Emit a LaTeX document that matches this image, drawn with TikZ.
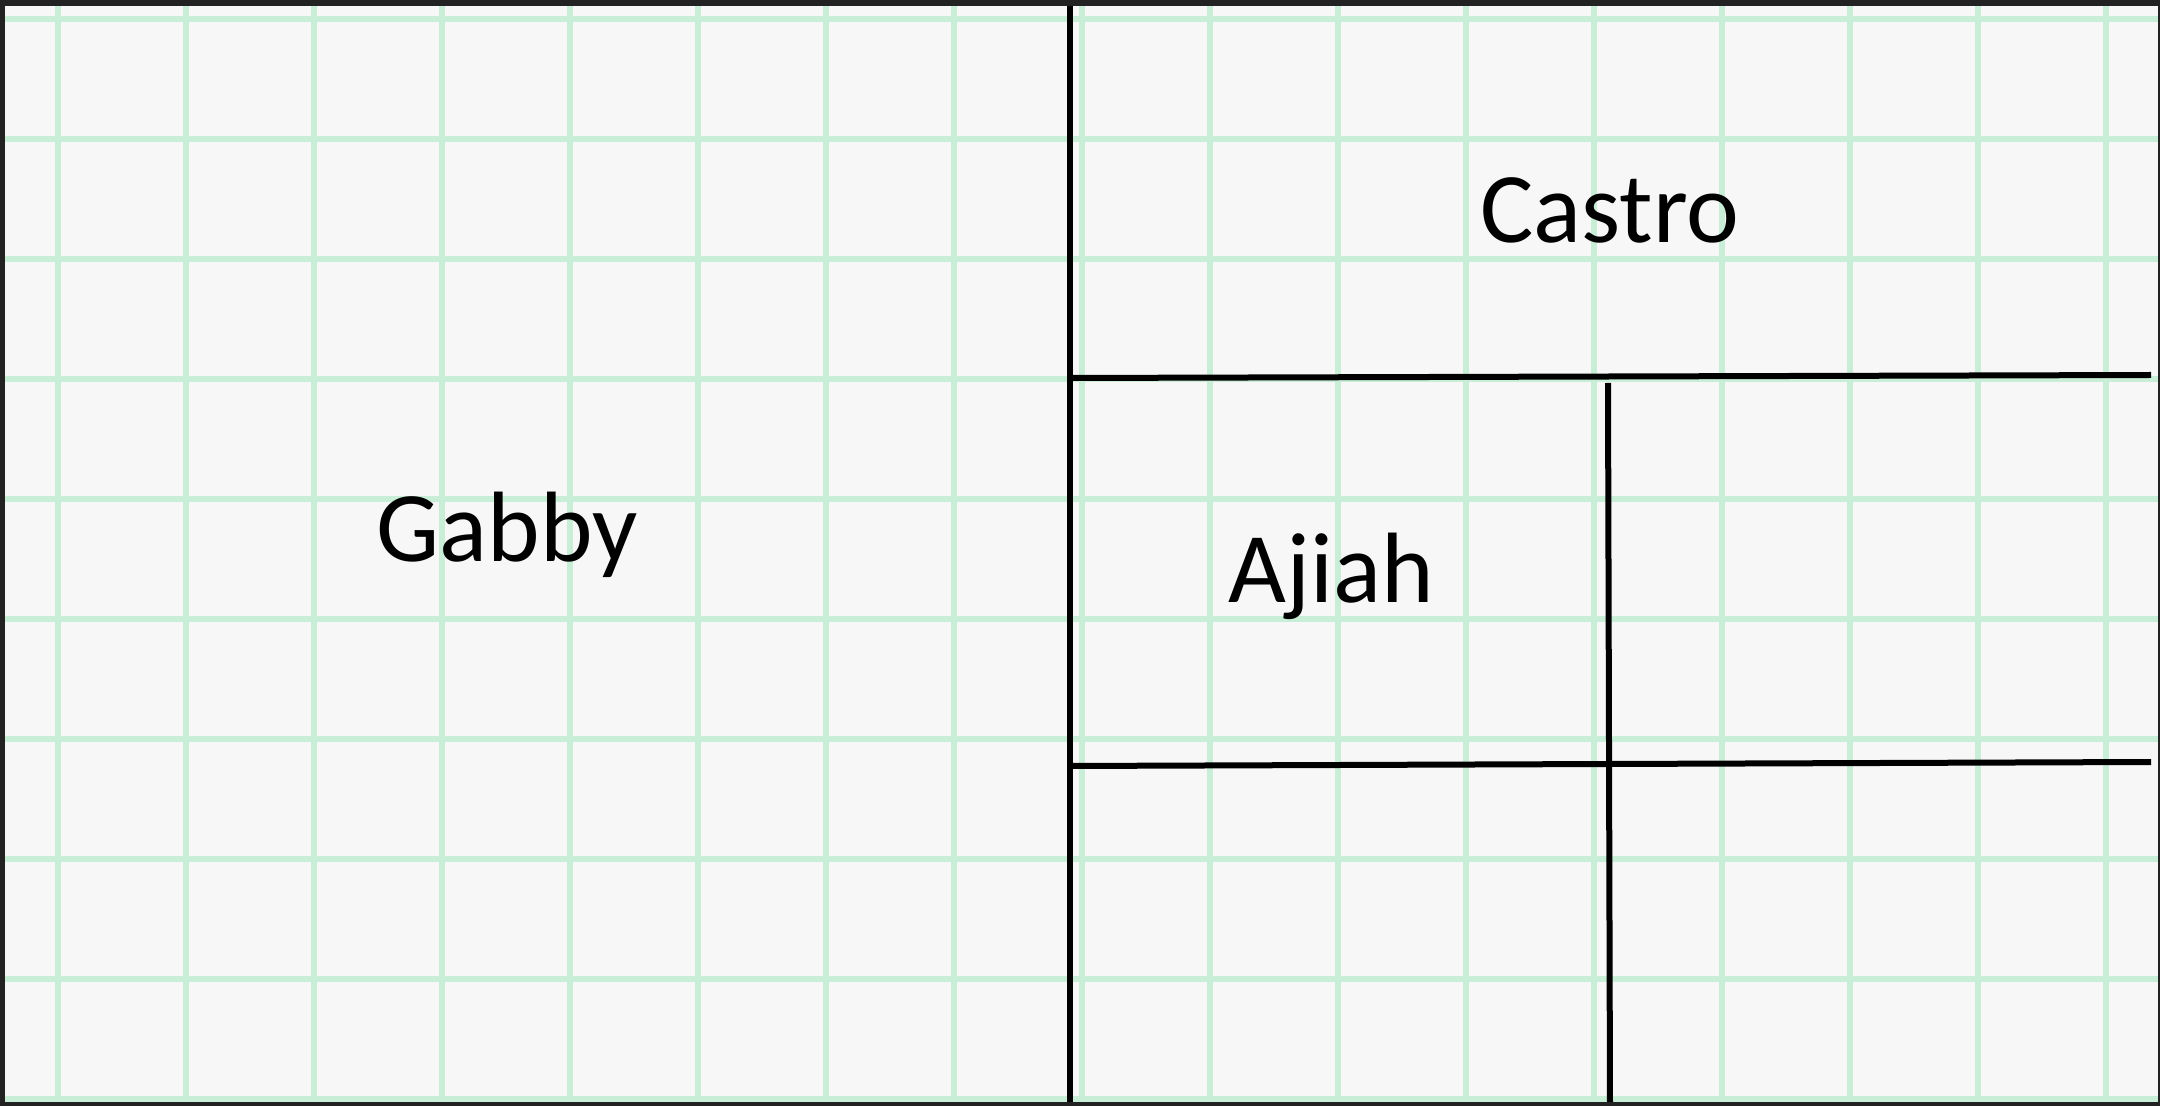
\documentclass[tikz,border=0pt]{standalone}
\usepackage{fontspec}
\setmainfont{Carlito}
\definecolor{bgc}{RGB}{247,247,247}
\definecolor{gridc}{RGB}{200,238,216}
\definecolor{framec}{RGB}{34,34,34}
\begin{document}
\begin{tikzpicture}[x=0.5pt,y=-0.5pt,
  gridline/.style={draw=gridc,line width=3pt},
  wall/.style={draw=black,line width=3pt},
  roomlabel/.style={anchor=base,inner sep=0pt,font=\fontsize{50}{60}\selectfont}]
\useasboundingbox (0,0) rectangle (2160,1106);
\fill[bgc] (0,0) rectangle (2160,1106);
% grid
\foreach \gx in {58,186,...,2106} \draw[gridline] (\gx,0) -- (\gx,1106);
\foreach \gy in {19,139,...,1099} \draw[gridline] (0,\gy) -- (2160,\gy);
% walls
\coordinate (vtop) at (1070,0);
\coordinate (vbot) at (1070,1106);
\coordinate (h1l) at (1070,378);
\coordinate (h1r) at (2151,375);
\coordinate (h2l) at (1070,766);
\coordinate (h2r) at (2151,762);
\coordinate (v2t) at (1608,383);
\coordinate (v2b) at (1610,1106);
\draw[wall] (vtop) -- (vbot);
\draw[wall] (h1l) -- (h1r);
\draw[wall] (h2l) -- (h2r);
\draw[wall] (v2t) -- (v2b);
% labels
\node[roomlabel] (gabby) at (507,562) {Gabby};
\node[roomlabel] (ajiah) at (1331,603) {Ajiah};
\node[roomlabel] (castro) at (1610,243) {Castro};
% frame
\fill[framec] (0,0) rectangle (2160,6);
\fill[framec] (0,0) rectangle (5,1106);
\fill[framec] (0,1102) rectangle (2160,1106);
\fill[framec] (2158,0) rectangle (2160,1106);
\end{tikzpicture}
\end{document}
